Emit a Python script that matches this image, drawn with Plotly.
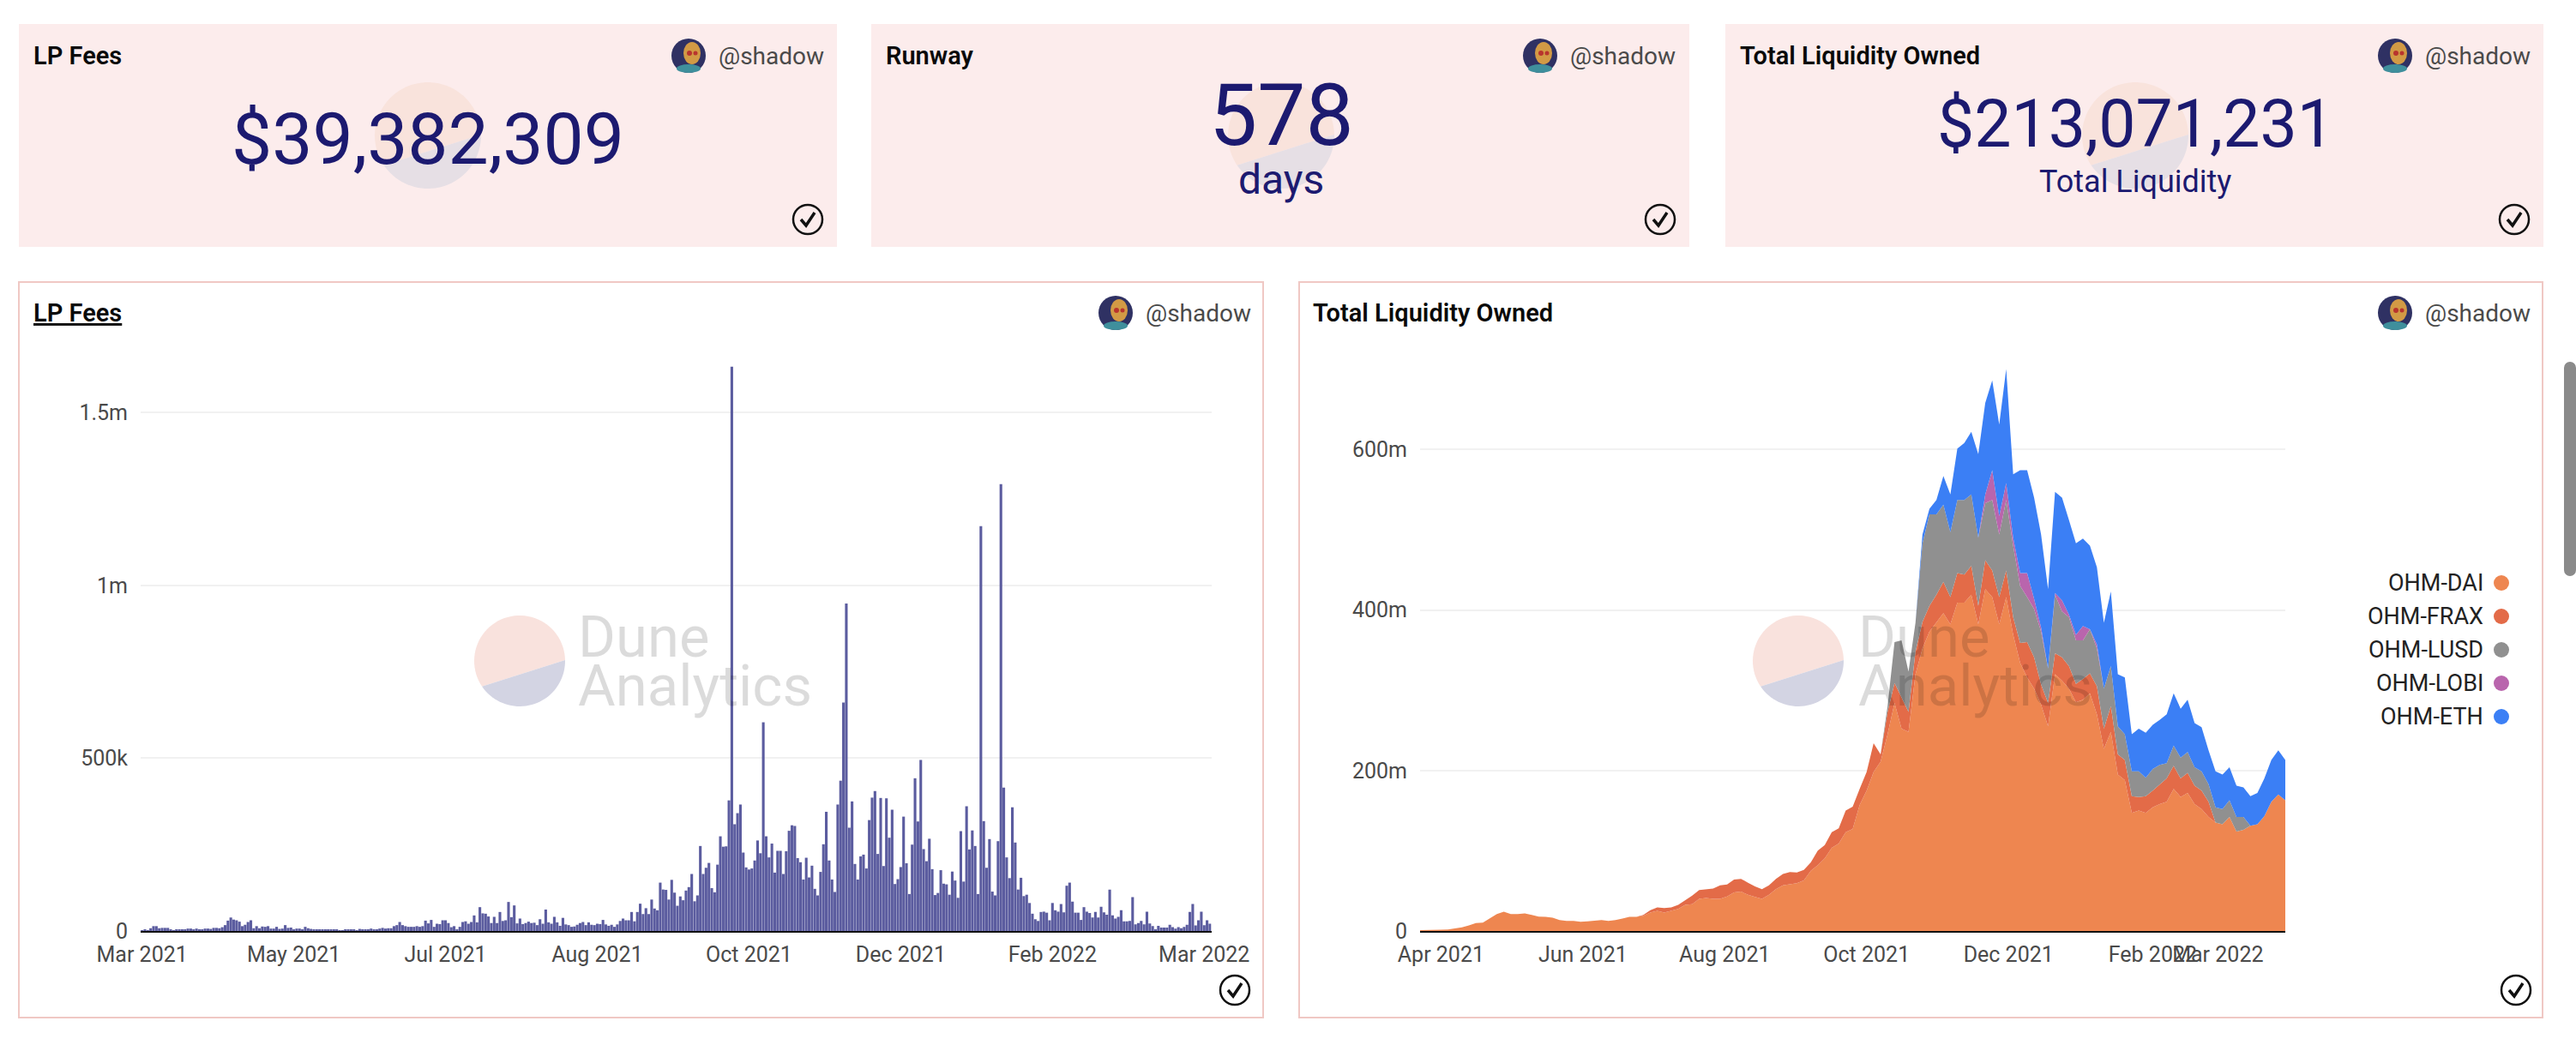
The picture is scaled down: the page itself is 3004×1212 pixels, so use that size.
import numpy as np
import pandas as pd
import plotly.graph_objects as go

W = 3004
H = 1212
FONT = "Roboto"

# daily LP fees, thousands of USD
lp_fees = [
    2, 4, 2, 8, 14, 14, 8, 9, 9, 9, 4, 2, 5, 4, 3, 4, 7, 7, 5, 7, 4, 3, 7, 7, 6, 9, 9, 8, 11, 17,
    30, 39, 33, 31, 27, 14, 18, 26, 31, 8, 14, 8, 13, 12, 14, 7, 7, 12, 6, 7, 17, 9, 10, 5, 7, 7, 4, 12, 8, 6,
    5, 5, 4, 5, 4, 3, 4, 4, 5, 2, 2, 3, 4, 4, 4, 2, 6, 4, 4, 5, 7, 4, 5, 7, 9, 7, 8, 8, 14, 17,
    26, 17, 14, 12, 12, 12, 14, 12, 14, 30, 22, 32, 12, 21, 20, 31, 31, 23, 11, 14, 5, 12, 26, 28, 21, 26, 45, 25, 69, 51,
    50, 42, 23, 41, 23, 55, 29, 31, 84, 40, 74, 22, 36, 20, 23, 27, 23, 24, 17, 34, 21, 62, 25, 21, 41, 25, 15, 38, 19, 17,
    12, 13, 18, 23, 26, 17, 25, 18, 17, 21, 20, 32, 19, 15, 18, 12, 19, 29, 36, 31, 31, 55, 28, 55, 79, 49, 66, 49, 91, 65,
    60, 140, 120, 119, 91, 148, 111, 73, 100, 89, 117, 127, 165, 86, 103, 246, 165, 183, 197, 124, 112, 192, 274, 244, 245, 378, 1633, 309, 341, 366,
    227, 184, 178, 181, 204, 262, 225, 604, 274, 213, 253, 169, 232, 232, 165, 231, 290, 306, 304, 211, 199, 149, 212, 155, 189, 122, 103, 171, 251, 345,
    204, 149, 113, 366, 435, 661, 948, 299, 375, 194, 149, 216, 221, 181, 321, 386, 405, 223, 385, 188, 384, 270, 351, 136, 150, 185, 331, 196, 107, 250,
    442, 317, 495, 237, 202, 267, 179, 104, 110, 176, 137, 135, 105, 172, 146, 96, 289, 143, 361, 236, 291, 246, 107, 1172, 318, 183, 266, 114, 103, 260,
    1293, 415, 213, 153, 358, 256, 120, 154, 101, 105, 81, 50, 34, 29, 55, 56, 53, 31, 81, 60, 56, 78, 54, 131, 140, 85, 53, 53, 32, 69,
    56, 52, 39, 55, 39, 70, 54, 47, 120, 45, 36, 41, 60, 28, 28, 29, 98, 19, 23, 29, 19, 56, 22, 14, 3, 15, 10, 10, 10, 18,
    11, 7, 11, 8, 12, 18, 55, 78, 16, 31, 56, 17, 31, 21,
]
fee_dates = pd.date_range("2021-03-23", periods=len(lp_fees), freq="D")
fee_tick_dates = pd.date_range("2021-03-23", periods=8, freq="53D")
fee_tick_text = ["Mar 2021", "May 2021", "Jul 2021", "Aug 2021", "Oct 2021", "Dec 2021", "Feb 2022", "Mar 2022"]
fee_y_ticks = [0, 500, 1000, 1500]
fee_y_text = ["0", "500k", "1m", "1.5m"]

# liquidity owned, millions of USD, one reading every 3 days.
# these are the upper edges of each band in the stack
dai_top = [
    1, 1, 1.5, 1.5, 2, 3, 4.5, 7, 10, 10.5, 15.5, 21, 24, 21, 21, 22, 20, 18, 17.5, 16.5,
    13.5, 12.5, 12.5, 11.5, 12, 13, 13.5, 12.5, 13.5, 15.5, 17.5, 17.5, 19, 23, 25, 23, 25, 27.5, 32.5, 33.5,
    40, 41, 40, 40, 43, 48, 49, 45, 42.5, 40, 45, 52, 57, 58.5, 59.5, 63, 75, 82, 90.5, 103.5,
    109, 123, 127, 157, 175, 198, 211, 245, 284, 252, 248, 320, 352, 373, 384, 396, 382, 409, 409, 419,
    382, 426, 416, 382, 416, 369, 334, 316, 302, 282, 255, 320, 312, 302, 285, 288, 296, 270, 227, 248,
    195, 188, 147, 150, 147, 154, 158, 161, 177, 167, 172, 158, 152, 142, 135, 133, 142, 124, 126, 131,
    133, 143, 161, 170, 163,
]
frax_top = dai_top[:32] + [
    20, 26, 29.5, 28.5, 29.5, 32.5, 38, 44, 51, 52, 53, 57, 58, 64, 65, 60, 55.5, 52, 57, 65,
    71, 73.5, 73, 76, 85.5, 100, 107, 123, 128, 150, 155, 177, 198, 234, 220, 273, 309, 291, 273, 348,
    385, 405, 419, 435, 416, 446, 444, 455, 405, 462, 449, 416, 449, 391, 359, 360, 341, 307, 284, 346,
    341, 330, 308, 314, 321, 305, 252, 280, 220, 213, 168, 167, 168, 175, 183, 190, 206, 190, 197, 181,
    175, 161, 135, 133, 142, 124, 126, 131, 133, 143, 161, 170, 163,
]
lusd_top = frax_top[:67] + [
    280, 360, 362, 323, 384, 483, 519, 519, 531, 497, 537, 537, 544, 490, 533, 537, 494, 537, 480,
    430, 416, 401, 373, 327, 419, 398, 391, 362, 362, 376, 352, 302, 330, 255, 245, 199, 199, 191, 202,
    207, 209, 231, 216, 223, 204, 199, 183, 154, 152, 163, 142, 142, 131, 133, 143, 161, 170, 163,
]
lobi_top = lusd_top[:81] + [
    544, 574, 517, 558, 490, 446, 446, 414, 378, 327, 421, 412, 394, 369, 380, 376, 357, 302, 330,
] + lusd_top[100:]
eth_top = lobi_top[:72] + [
    494, 526, 537, 567, 544, 601, 608, 622, 594, 658, 686, 631, 700, 569, 574, 574, 540, 494, 426,
    547, 540, 512, 483, 489, 480, 453, 384, 423, 320, 316, 245, 252, 247, 257, 263, 270, 296, 277, 288,
    259, 254, 225, 199, 195, 204, 181, 179, 168, 172, 190, 213, 225, 213,
]
liq_dates = pd.date_range("2021-03-23", periods=len(dai_top), freq="3D")
liq_tick_dates = ["2021-04-01", "2021-06-01", "2021-08-01", "2021-10-01", "2021-12-01", "2022-02-01", "2022-03-01"]
liq_tick_text = ["Apr 2021", "Jun 2021", "Aug 2021", "Oct 2021", "Dec 2021", "Feb 2022", "Mar 2022"]
liq_y_ticks = [0, 200, 400, 600]
liq_y_text = ["0", "200m", "400m", "600m"]

series_names = ["OHM-DAI", "OHM-FRAX", "OHM-LUSD", "OHM-LOBI", "OHM-ETH"]
series_tops = [dai_top, frax_top, lusd_top, lobi_top, eth_top]
series_colors = ["#ee8650", "#e36b48", "#909090", "#b965ad", "#3b7ff5"]

counter_titles = ["LP Fees", "Runway", "Total Liquidity Owned"]
counter_values = ["$39,382,309", "578", "$213,071,231"]
counter_labels = ["", "days", "Total Liquidity"]


def px(x):
    return x / W


def py(y):
    return 1 - y / H


shapes = []
notes = []


def rect(x0, y0, x1, y1, fill, line=None):
    shapes.append(dict(type="rect", xref="paper", yref="paper", x0=px(x0), x1=px(x1), y0=py(y0), y1=py(y1),
                       fillcolor=fill, line=dict(color=line or fill, width=2 if line else 0), layer="below"))


def circle(cx, cy, r, fill, line=None, layer="below", rx=None):
    rx = rx or r
    shapes.append(dict(type="circle", xref="paper", yref="paper", x0=px(cx - rx), x1=px(cx + rx),
                       y0=py(cy + r), y1=py(cy - r), fillcolor=fill,
                       line=dict(color=line or fill, width=2.5 if line else 0), layer=layer))


def poly(points, fill=None, line=None, width=3, layer="below"):
    d = "M " + " L ".join(f"{px(a):.6f},{py(b):.6f}" for a, b in points)
    if fill:
        d += " Z"
    shapes.append(dict(type="path", xref="paper", yref="paper", path=d, fillcolor=fill or "rgba(0,0,0,0)",
                       line=dict(color=line or fill, width=width if line else 0), layer=layer))


def text(x, y, s, size, color, anchor="left", weight=None, **font_extra):
    font = dict(family=FONT, size=size, color=color, **font_extra)
    if weight:
        font["weight"] = weight
    notes.append(dict(xref="paper", yref="paper", x=px(x), y=py(y), text=s, showarrow=False, xanchor=anchor,
                      yanchor="middle", font=font, borderpad=0))


def logo_disc(cx, cy, r, top, bottom):
    a = np.radians(np.linspace(1, 214, 50))
    poly([(cx + r * np.cos(t), cy - r * np.sin(t)) for t in a], fill=top)
    a = np.radians(np.linspace(214, 361, 40))
    poly([(cx + r * np.cos(t), cy - r * np.sin(t)) for t in a], fill=bottom)


def avatar(cx, cy):
    circle(cx, cy, 20, "#2f3163")
    circle(cx, cy + 15, 5, "#3f8f9c", rx=14)
    circle(cx + 4, cy - 3, 13, "#d29a45", rx=10)
    circle(cx + 1, cy - 3, 3, "#b8342e")
    circle(cx + 8, cy - 3, 2.5, "#b8342e")


def check(cx, cy):
    circle(cx, cy, 17, "rgba(0,0,0,0)", line="#111111")
    poly([(cx - 8, cy), (cx - 2, cy + 7), (cx + 8, cy - 8)], line="#111111", width=3.5)


def byline(icon_x, cy):
    avatar(icon_x, cy)
    text(icon_x + 34, cy, "@shadow", 28, "#4a4a4a")


# top row of counters
card_x = [(22, 976), (1016, 1970), (2012, 2966)]
disc_x = [499, 1494, 2490]
icon_x = [803, 1796, 2793]
check_x = [942, 1936, 2932]
value_y = [162, 135, 145]
value_size = [84, 100, 77]
label_y = [0, 209, 212]
label_size = [0, 48, 36]
for n in range(3):
    x0, x1 = card_x[n]
    rect(x0, 28, x1, 288, "#fcecec")
    logo_disc(disc_x[n], 158, 62, "#f9e3dc", "#e6dfe5")
    byline(icon_x[n], 65)
    check(check_x[n], 256)
    text(x0 + 16, 65, counter_titles[n], 29, "#0a0a0a", weight=600)
    text(disc_x[n], value_y[n], counter_values[n], value_size[n], "#1c1a70", anchor="center")
    if counter_labels[n]:
        text(disc_x[n], label_y[n], counter_labels[n], label_size[n], "#1c1a70", anchor="center")

# lower panels
rect(22, 329, 1473, 1187, "#ffffff", line="#f0c8c4")
rect(1515, 329, 2965, 1187, "#ffffff", line="#f0c8c4")
text(38, 365, "LP Fees", 29, "#0a0a0a", weight=600, lineposition="under")
text(1530, 365, "Total Liquidity Owned", 29, "#0a0a0a", weight=600)
byline(1301, 365)
byline(2793, 365)
check(1440, 1155)
check(2934, 1155)

for cx, tx in [(606, 673), (2097, 2166)]:
    logo_disc(cx, 771, 53, "#f9e2dd", "#d3d4e3")
    text(tx, 743, "Dune", 67, "rgba(0,0,0,0.14)")
    text(tx, 800, "Analytics", 67, "rgba(0,0,0,0.14)")

# right hand legend, markers sit right of the names
legend_y = [680, 719, 758, 797, 836]
for name, color, y in zip(series_names, series_colors, legend_y):
    text(2897, y, name, 27, "#222222", anchor="right")
    circle(2917, y, 9, color)

# page scrollbar
rect(2990, 429, 3004, 665, "#8a8a8a")
circle(2997, 429, 7, "#8a8a8a")
circle(2997, 665, 7, "#8a8a8a")

fig = go.Figure()
fig.add_trace(go.Bar(x=fee_dates, y=lp_fees, marker=dict(color="#5b5c9f", line=dict(width=0)), xaxis="x", yaxis="y",
                     showlegend=False))

prev = np.zeros(len(dai_top))
for name, top, color in zip(series_names, series_tops, series_colors):
    top = np.array(top, dtype=float)
    fig.add_trace(go.Scatter(x=liq_dates, y=top - prev, name=name, mode="lines", stackgroup="liq",
                             line=dict(width=0, color=color), fillcolor=color, xaxis="x2", yaxis="y2",
                             showlegend=False))
    prev = top

axis_font = dict(family=FONT, size=25, color="#4a4a4a")
x_style = dict(type="date", showgrid=False, showline=True, linecolor="#111111", linewidth=2, ticks="",
               tickfont=axis_font, tickangle=0, zeroline=False, automargin=False, ticklabelstandoff=4)
y_style = dict(showgrid=True, gridcolor="#f1f1f1", gridwidth=2, zeroline=False, showline=False, ticks="",
               tickfont=axis_font, ticklabelstandoff=14, automargin=False)

fig.update_layout(
    width=W,
    height=H,
    margin=dict(l=0, r=0, t=0, b=0, pad=0, autoexpand=False),
    paper_bgcolor="#ffffff",
    plot_bgcolor="rgba(0,0,0,0)",
    bargap=0.07,
    showlegend=False,
    shapes=shapes,
    annotations=notes,
    xaxis=dict(domain=[px(164), px(1412.6)], range=["2021-03-22 12:00", "2022-03-31 12:00"], anchor="y",
               tickvals=fee_tick_dates, ticktext=fee_tick_text, **x_style),
    yaxis=dict(domain=[py(1086), py(425)], range=[0, 1640], anchor="x", tickvals=fee_y_ticks, ticktext=fee_y_text,
               **y_style),
    xaxis2=dict(domain=[px(1656), px(2665)], range=[liq_dates[0], liq_dates[-1]], anchor="y2",
                tickvals=liq_tick_dates, ticktext=liq_tick_text, **x_style),
    yaxis2=dict(domain=[py(1086), py(425)], range=[0, 706], anchor="x2", tickvals=liq_y_ticks, ticktext=liq_y_text,
                **y_style),
)

fig.write_html("out.html", config=dict(displayModeBar=False),
               post_script="document.body.style.margin='0';document.body.style.overflow='hidden';")
